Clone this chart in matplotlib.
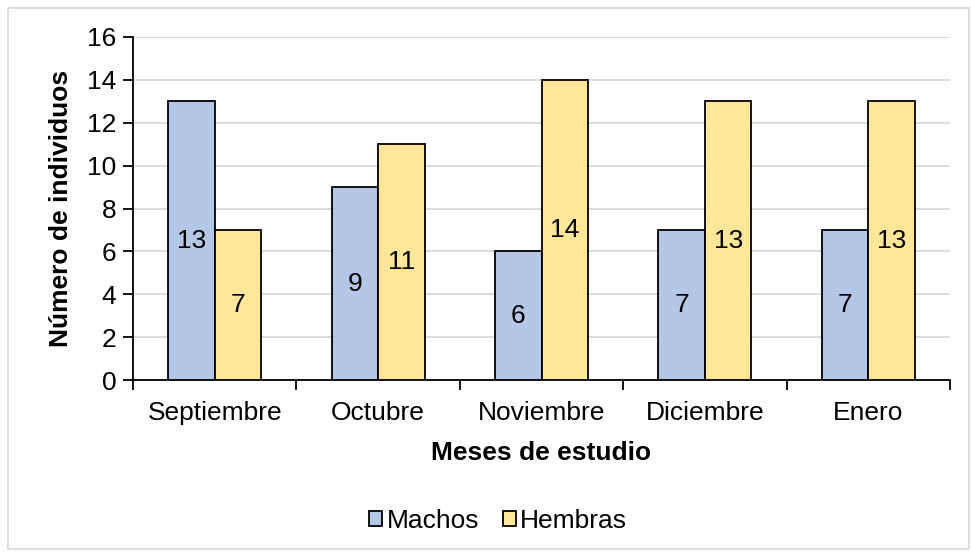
import numpy as np
import matplotlib.pyplot as plt
from matplotlib.patches import Rectangle

# Individuals counted per month, by sex
meses = ["Septiembre", "Octubre", "Noviembre", "Diciembre", "Enero"]
machos = [13, 9, 6, 7, 7]
hembras = [7, 11, 14, 13, 13]

plt.rcParams['font.family'] = ['Liberation Sans', 'DejaVu Sans']
FS = 19

fig = plt.figure(figsize=(9.71, 5.53), dpi=100)
ax = fig.add_axes([133/971, 1 - 380/553, 817/971, 343/553])

# light frame round the whole chart
fig.patches.append(Rectangle((8/971, 4/553), 961/971, 541/553, transform=fig.transFigure,
                             fill=False, edgecolor="#D9D9D9", linewidth=1.2))

x = np.arange(len(meses))
w = 0.285
b1 = ax.bar(x - w/2, machos, w, color="#B4C7E7", edgecolor="black", linewidth=1.3, label="Machos", zorder=3)
b2 = ax.bar(x + w/2, hembras, w, color="#FFE699", edgecolor="black", linewidth=1.3, label="Hembras", zorder=3)

for bars, vals in [(b1, machos), (b2, hembras)]:
    for bar, v in zip(bars, vals):
        ax.text(bar.get_x() + bar.get_width()/2, v/2, str(v), ha="center", va="center",
                fontsize=FS, zorder=4)

ax.set_xlim(-0.5, len(meses) - 0.5)
ax.set_ylim(0, 16)
ax.set_yticks(range(0, 17, 2))
ax.set_xticks(x)
ax.set_xticklabels(meses)
ax.set_xticks(np.arange(-0.5, len(meses)), minor=True)
ax.tick_params(axis="x", which="major", length=0, pad=15, labelsize=FS)
ax.tick_params(axis="x", which="minor", length=7, width=1.3, direction="out")
ax.tick_params(axis="y", length=7, width=1.3, direction="out", pad=5, labelsize=FS)
ax.grid(axis="y", color="#D9D9D9", linewidth=1.3, zorder=0)

for s in ["top", "right"]:
    ax.spines[s].set_visible(False)
ax.spines["left"].set_linewidth(1.3)
ax.spines["bottom"].set_linewidth(1.3)

ax.set_xlabel("Meses de estudio", fontsize=FS, fontweight="bold", labelpad=12)
ax.set_ylabel("Número de individuos", fontsize=FS, fontweight="bold", labelpad=10)

fig.legend(handles=[b1, b2], labels=["Machos", "Hembras"], loc="center",
           bbox_to_anchor=(498/971, 1 - 521/553), ncol=2, frameon=False, fontsize=FS,
           handlelength=0.5, handleheight=0.5, handletextpad=0.15, columnspacing=0.9)

fig.savefig("out.png", dpi=100)
